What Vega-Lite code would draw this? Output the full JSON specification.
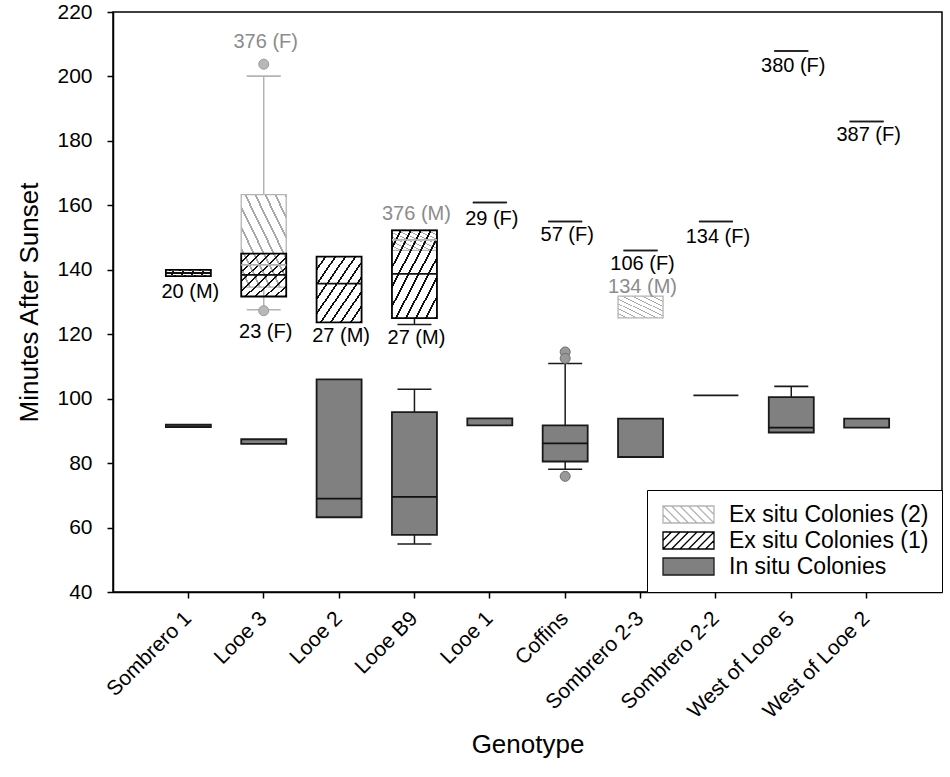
{
  "$schema": "https://vega.github.io/schema/vega-lite/v6.json",
  "width": 829,
  "height": 580,
  "autosize": "none",
  "padding": {"left": 113, "top": 12, "right": 8, "bottom": 185},
  "config": {
    "font": "Liberation Sans",
    "view": {"stroke": "#000000", "strokeWidth": 1.5},
    "axis": {
      "grid": false,
      "domainColor": "#000000",
      "domainWidth": 1.5,
      "tickColor": "#000000",
      "tickWidth": 1.5,
      "tickSize": 6,
      "labelColor": "#000000",
      "titleColor": "#000000",
      "titleFontWeight": "normal"
    },
    "legend": {
      "orient": "bottom-right",
      "offset": 0,
      "padding": 13,
      "strokeColor": "#000000",
      "fillColor": "#ffffff",
      "labelFontSize": 23,
      "labelLimit": 400,
      "labelColor": "#000000",
      "symbolSize": 289,
      "symbolStrokeWidth": 1.3,
      "symbolOpacity": 1,
      "labelOffset": 46,
      "rowPadding": 2
    }
  },
  "datasets": {
    "boxes": [
      {"g": "Looe 3", "s": "Ex situ Colonies (2)", "lo": 127.6, "q1": 134.6, "med": 141.5, "q3": 163.3, "hi": 200.1},
      {"g": "Looe B9", "s": "Ex situ Colonies (2)", "q1": 146.0, "med": 149.3, "q3": 152.4},
      {"g": "Sombrero 2-3", "s": "Ex situ Colonies (2)", "q1": 125.1, "q3": 131.8},
      {"g": "Sombrero 1", "s": "Ex situ Colonies (1)", "q1": 138.0, "med": 139.0, "q3": 140.0},
      {"g": "Looe 3", "s": "Ex situ Colonies (1)", "q1": 131.7, "med": 138.4, "q3": 145.0},
      {"g": "Looe 2", "s": "Ex situ Colonies (1)", "q1": 123.7, "med": 135.7, "q3": 144.1},
      {"g": "Looe B9", "s": "Ex situ Colonies (1)", "lo": 123.0, "q1": 125.0, "med": 138.7, "q3": 152.2},
      {"g": "Looe 1", "s": "Ex situ Colonies (1)", "lo": 160.9, "hi": 160.9},
      {"g": "Coffins", "s": "Ex situ Colonies (1)", "lo": 155.0, "hi": 155.0},
      {"g": "Sombrero 2-3", "s": "Ex situ Colonies (1)", "lo": 146.0, "hi": 146.0},
      {"g": "Sombrero 2-2", "s": "Ex situ Colonies (1)", "lo": 155.0, "hi": 155.0},
      {"g": "West of Looe 5", "s": "Ex situ Colonies (1)", "lo": 207.9, "hi": 207.9},
      {"g": "West of Looe 2", "s": "Ex situ Colonies (1)", "lo": 186.0, "hi": 186.0},
      {"g": "Sombrero 1", "s": "In situ Colonies", "q1": 91.2, "q3": 91.9},
      {"g": "Looe 3", "s": "In situ Colonies", "q1": 86.0, "q3": 87.4},
      {"g": "Looe 2", "s": "In situ Colonies", "q1": 63.2, "med": 69.0, "q3": 106.0},
      {"g": "Looe B9", "s": "In situ Colonies", "lo": 54.9, "q1": 57.7, "med": 69.5, "q3": 95.8, "hi": 102.9},
      {"g": "Looe 1", "s": "In situ Colonies", "q1": 91.7, "q3": 93.9},
      {"g": "Coffins", "s": "In situ Colonies", "lo": 78.1, "q1": 80.5, "med": 86.1, "q3": 91.7, "hi": 110.9},
      {"g": "Sombrero 2-3", "s": "In situ Colonies", "q1": 81.9, "q3": 93.8},
      {"g": "Sombrero 2-2", "s": "In situ Colonies", "q1": 101.0, "q3": 101.0},
      {"g": "West of Looe 5", "s": "In situ Colonies", "q1": 89.5, "med": 91.0, "q3": 100.5, "hi": 103.8},
      {"g": "West of Looe 2", "s": "In situ Colonies", "q1": 91.0, "q3": 93.8}
    ],
    "outliers": [
      {"g": "Looe 3", "s": "Ex situ Colonies (2)", "v": 203.8},
      {"g": "Looe 3", "s": "Ex situ Colonies (2)", "v": 127.3},
      {"g": "Coffins", "s": "In situ Colonies", "v": 114.5},
      {"g": "Coffins", "s": "In situ Colonies", "v": 112.5},
      {"g": "Coffins", "s": "In situ Colonies", "v": 75.9}
    ],
    "labels": [
      {"g": "Sombrero 1", "s": "Ex situ Colonies (1)", "y": 133.0, "t": "20 (M)"},
      {"g": "Looe 3", "s": "Ex situ Colonies (1)", "y": 120.7, "t": "23 (F)"},
      {"g": "Looe 3", "s": "Ex situ Colonies (2)", "y": 210.8, "t": "376 (F)"},
      {"g": "Looe 2", "s": "Ex situ Colonies (1)", "y": 119.6, "t": "27 (M)"},
      {"g": "Looe B9", "s": "Ex situ Colonies (1)", "y": 118.7, "t": "27 (M)"},
      {"g": "Looe B9", "s": "Ex situ Colonies (2)", "y": 157.4, "t": "376 (M)"},
      {"g": "Looe 1", "s": "Ex situ Colonies (1)", "y": 155.8, "t": "29 (F)"},
      {"g": "Coffins", "s": "Ex situ Colonies (1)", "y": 150.9, "t": "57 (F)"},
      {"g": "Sombrero 2-3", "s": "Ex situ Colonies (1)", "y": 141.8, "t": "106 (F)"},
      {"g": "Sombrero 2-3", "s": "Ex situ Colonies (2)", "y": 134.8, "t": "134 (M)"},
      {"g": "Sombrero 2-2", "s": "Ex situ Colonies (1)", "y": 150.3, "t": "134 (F)"},
      {"g": "West of Looe 5", "s": "Ex situ Colonies (1)", "y": 203.3, "t": "380 (F)"},
      {"g": "West of Looe 2", "s": "Ex situ Colonies (1)", "y": 181.9, "t": "387 (F)"}
    ]
  },
  "encoding": {
    "x": {
      "field": "g",
      "type": "nominal",
      "title": "Genotype",
      "sort": ["Sombrero 1", "Looe 3", "Looe 2", "Looe B9", "Looe 1", "Coffins", "Sombrero 2-3", "Sombrero 2-2", "West of Looe 5", "West of Looe 2"],
      "scale": {"paddingInner": 0.404, "paddingOuter": 0.702},
      "axis": {
        "labelAngle": -45,
        "labelAlign": "right",
        "labelBaseline": "middle",
        "labelFontSize": 21,
        "labelPadding": 17,
        "titleFontSize": 26,
        "titlePadding": 10
      }
    }
  },
  "layer": [
    {
      "data": {"name": "boxes"},
      "transform": [{"filter": "isValid(datum.lo) && isValid(datum.q1)"}],
      "mark": {"type": "rule", "strokeWidth": 1.5},
      "encoding": {
        "y": {"field": "lo", "type": "quantitative", "title": "Minutes After Sunset",
          "scale": {"domain": [40, 220], "nice": false, "zero": false},
          "axis": {"values": [40, 60, 80, 100, 120, 140, 160, 180, 200, 220], "labelFontSize": 21, "labelPadding": 15, "titleFontSize": 26, "titlePadding": 14}},
        "y2": {"field": "q1"},
        "color": {"condition": {"test": "datum.s === 'Ex situ Colonies (2)'", "value": "#b4b4b4"}, "value": "#1a1a1a"}
      }
    },
    {
      "data": {"name": "boxes"},
      "transform": [{"filter": "isValid(datum.hi) && isValid(datum.q3)"}],
      "mark": {"type": "rule", "strokeWidth": 1.5},
      "encoding": {
        "y": {"field": "q3", "type": "quantitative", "title": "Minutes After Sunset"},
        "y2": {"field": "hi"},
        "color": {"condition": {"test": "datum.s === 'Ex situ Colonies (2)'", "value": "#b4b4b4"}, "value": "#1a1a1a"}
      }
    },
    {
      "data": {"name": "boxes"},
      "transform": [{"filter": "isValid(datum.lo)"}],
      "mark": {"type": "tick", "size": 34, "thickness": 1.6, "opacity": 1},
      "encoding": {
        "y": {"field": "lo", "type": "quantitative", "title": "Minutes After Sunset"},
        "color": {"condition": {"test": "datum.s === 'Ex situ Colonies (2)'", "value": "#b4b4b4"}, "value": "#1a1a1a"}
      }
    },
    {
      "data": {"name": "boxes"},
      "transform": [{"filter": "isValid(datum.hi)"}],
      "mark": {"type": "tick", "size": 34, "thickness": 1.6, "opacity": 1},
      "encoding": {
        "y": {"field": "hi", "type": "quantitative", "title": "Minutes After Sunset"},
        "color": {"condition": {"test": "datum.s === 'Ex situ Colonies (2)'", "value": "#b4b4b4"}, "value": "#1a1a1a"}
      }
    },
    {
      "data": {"name": "boxes"},
      "transform": [{"filter": "isValid(datum.q1) && datum.s === 'Ex situ Colonies (2)'"}],
      "mark": {
        "type": "bar", "width": 45, "strokeWidth": 1.3, "stroke": "#b4b4b4", "opacity": 1,
        "fill": {"gradient": "linear", "x1": 0, "y1": 1, "x2": 1, "y2": 0, "stops": [
          {"offset": 0, "color": "rgba(255,255,255,0)"}, {"offset": 0.0889, "color": "rgba(255,255,255,0)"}, {"offset": 0.0889, "color": "#a8a8a8"}, {"offset": 0.1111, "color": "#a8a8a8"},
          {"offset": 0.1111, "color": "rgba(255,255,255,0)"}, {"offset": 0.2, "color": "rgba(255,255,255,0)"}, {"offset": 0.2, "color": "#a8a8a8"}, {"offset": 0.2222, "color": "#a8a8a8"},
          {"offset": 0.2222, "color": "rgba(255,255,255,0)"}, {"offset": 0.3111, "color": "rgba(255,255,255,0)"}, {"offset": 0.3111, "color": "#a8a8a8"}, {"offset": 0.3333, "color": "#a8a8a8"},
          {"offset": 0.3333, "color": "rgba(255,255,255,0)"}, {"offset": 0.4222, "color": "rgba(255,255,255,0)"}, {"offset": 0.4222, "color": "#a8a8a8"}, {"offset": 0.4444, "color": "#a8a8a8"},
          {"offset": 0.4444, "color": "rgba(255,255,255,0)"}, {"offset": 0.5333, "color": "rgba(255,255,255,0)"}, {"offset": 0.5333, "color": "#a8a8a8"}, {"offset": 0.5556, "color": "#a8a8a8"},
          {"offset": 0.5556, "color": "rgba(255,255,255,0)"}, {"offset": 0.6444, "color": "rgba(255,255,255,0)"}, {"offset": 0.6444, "color": "#a8a8a8"}, {"offset": 0.6667, "color": "#a8a8a8"},
          {"offset": 0.6667, "color": "rgba(255,255,255,0)"}, {"offset": 0.7556, "color": "rgba(255,255,255,0)"}, {"offset": 0.7556, "color": "#a8a8a8"}, {"offset": 0.7778, "color": "#a8a8a8"},
          {"offset": 0.7778, "color": "rgba(255,255,255,0)"}, {"offset": 0.8667, "color": "rgba(255,255,255,0)"}, {"offset": 0.8667, "color": "#a8a8a8"}, {"offset": 0.8889, "color": "#a8a8a8"},
          {"offset": 0.8889, "color": "rgba(255,255,255,0)"}, {"offset": 0.9778, "color": "rgba(255,255,255,0)"}, {"offset": 0.9778, "color": "#a8a8a8"}, {"offset": 1, "color": "#a8a8a8"}
        ]}
      },
      "encoding": {
        "y": {"field": "q1", "type": "quantitative", "title": "Minutes After Sunset"},
        "y2": {"field": "q3"}
      }
    },
    {
      "data": {"name": "boxes"},
      "transform": [{"filter": "isValid(datum.q1) && datum.s === 'Ex situ Colonies (1)'"}],
      "mark": {
        "type": "bar", "width": 45, "strokeWidth": 1.8, "stroke": "#000000", "opacity": 1,
        "fill": {"gradient": "linear", "x1": 0, "y1": 0, "x2": 1, "y2": 1, "stops": [
          {"offset": 0, "color": "rgba(255,255,255,0)"}, {"offset": 0.0889, "color": "rgba(255,255,255,0)"}, {"offset": 0.0889, "color": "#111111"}, {"offset": 0.1111, "color": "#111111"},
          {"offset": 0.1111, "color": "rgba(255,255,255,0)"}, {"offset": 0.2, "color": "rgba(255,255,255,0)"}, {"offset": 0.2, "color": "#111111"}, {"offset": 0.2222, "color": "#111111"},
          {"offset": 0.2222, "color": "rgba(255,255,255,0)"}, {"offset": 0.3111, "color": "rgba(255,255,255,0)"}, {"offset": 0.3111, "color": "#111111"}, {"offset": 0.3333, "color": "#111111"},
          {"offset": 0.3333, "color": "rgba(255,255,255,0)"}, {"offset": 0.4222, "color": "rgba(255,255,255,0)"}, {"offset": 0.4222, "color": "#111111"}, {"offset": 0.4444, "color": "#111111"},
          {"offset": 0.4444, "color": "rgba(255,255,255,0)"}, {"offset": 0.5333, "color": "rgba(255,255,255,0)"}, {"offset": 0.5333, "color": "#111111"}, {"offset": 0.5556, "color": "#111111"},
          {"offset": 0.5556, "color": "rgba(255,255,255,0)"}, {"offset": 0.6444, "color": "rgba(255,255,255,0)"}, {"offset": 0.6444, "color": "#111111"}, {"offset": 0.6667, "color": "#111111"},
          {"offset": 0.6667, "color": "rgba(255,255,255,0)"}, {"offset": 0.7556, "color": "rgba(255,255,255,0)"}, {"offset": 0.7556, "color": "#111111"}, {"offset": 0.7778, "color": "#111111"},
          {"offset": 0.7778, "color": "rgba(255,255,255,0)"}, {"offset": 0.8667, "color": "rgba(255,255,255,0)"}, {"offset": 0.8667, "color": "#111111"}, {"offset": 0.8889, "color": "#111111"},
          {"offset": 0.8889, "color": "rgba(255,255,255,0)"}, {"offset": 0.9778, "color": "rgba(255,255,255,0)"}, {"offset": 0.9778, "color": "#111111"}, {"offset": 1, "color": "#111111"}
        ]}
      },
      "encoding": {
        "y": {"field": "q1", "type": "quantitative", "title": "Minutes After Sunset"},
        "y2": {"field": "q3"}
      }
    },
    {
      "data": {"name": "boxes"},
      "transform": [{"filter": "isValid(datum.q1) && datum.s === 'In situ Colonies'"}],
      "mark": {"type": "bar", "width": 45, "strokeWidth": 1.8, "fill": "#808080", "stroke": "#1a1a1a", "opacity": 1},
      "encoding": {
        "y": {"field": "q1", "type": "quantitative", "title": "Minutes After Sunset"},
        "y2": {"field": "q3"}
      }
    },
    {
      "data": {"name": "boxes"},
      "transform": [{"filter": "isValid(datum.med)"}],
      "mark": {"type": "tick", "size": 45, "thickness": 1.8, "opacity": 1},
      "encoding": {
        "y": {"field": "med", "type": "quantitative", "title": "Minutes After Sunset"},
        "color": {"condition": {"test": "datum.s === 'Ex situ Colonies (2)'", "value": "#b4b4b4"}, "value": "#111111"}
      }
    },
    {
      "data": {"name": "outliers"},
      "mark": {"type": "point", "filled": true, "size": 100, "opacity": 1, "strokeWidth": 1},
      "encoding": {
        "y": {"field": "v", "type": "quantitative", "title": "Minutes After Sunset"},
        "fill": {"condition": {"test": "datum.s === 'Ex situ Colonies (2)'", "value": "#b8b8b8"}, "value": "#999999"},
        "stroke": {"condition": {"test": "datum.s === 'Ex situ Colonies (2)'", "value": "#9a9a9a"}, "value": "#6e6e6e"}
      }
    },
    {
      "data": {"name": "labels"},
      "mark": {"type": "text", "fontSize": 20, "baseline": "middle", "align": "center", "dx": 2},
      "encoding": {
        "y": {"field": "y", "type": "quantitative", "title": "Minutes After Sunset"},
        "text": {"field": "t"},
        "color": {"condition": {"test": "datum.s === 'Ex situ Colonies (2)'", "value": "#8c8c8c"}, "value": "#000000"}
      }
    },
    {
      "data": {"name": "boxes"},
      "transform": [{"filter": "false"}],
      "mark": {"type": "point", "filled": true, "size": 289, "strokeWidth": 1.3},
      "encoding": {
        "y": {"field": "q1", "type": "quantitative", "title": "Minutes After Sunset"},
        "shape": {
          "field": "s", "type": "nominal", "legend": {"title": null},
          "scale": {
            "domain": ["Ex situ Colonies (2)", "Ex situ Colonies (1)", "In situ Colonies"],
            "range": [
              "M-1,-1H5V1H-1Z M-1,0L0,1 M-1,-1L1,1 M0,-1L2,1 M1,-1L3,1 M2,-1L4,1 M3,-1L5,1 M4,-1L5,0",
              "M-1,-1H5V1H-1Z M-1,0L0,-1 M-1,1L1,-1 M0,1L2,-1 M1,1L3,-1 M2,1L4,-1 M3,1L5,-1 M4,1L5,0",
              "M-1,-1H5V1H-1Z"
            ]
          }
        },
        "fill": {
          "field": "s", "type": "nominal", "legend": {"title": null},
          "scale": {
            "domain": ["Ex situ Colonies (2)", "Ex situ Colonies (1)", "In situ Colonies"],
            "range": ["rgba(255,255,255,0)", "rgba(255,255,255,0)", "#808080"]
          }
        },
        "stroke": {
          "field": "s", "type": "nominal", "legend": {"title": null},
          "scale": {
            "domain": ["Ex situ Colonies (2)", "Ex situ Colonies (1)", "In situ Colonies"],
            "range": ["#b4b4b4", "#000000", "#1a1a1a"]
          }
        }
      }
    }
  ]
}
